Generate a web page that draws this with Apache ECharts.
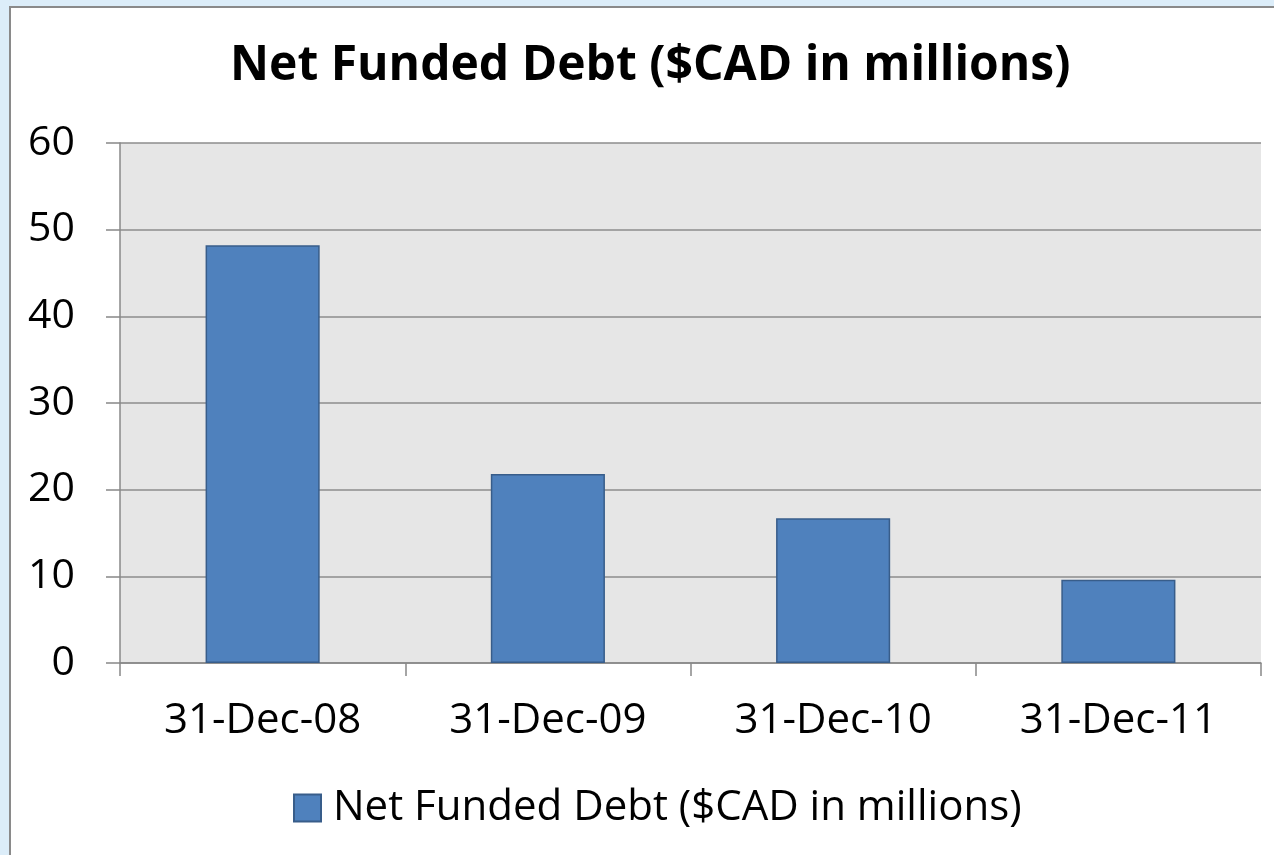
<!DOCTYPE html>
<html><head><meta charset="utf-8">
<script src="https://cdn.jsdelivr.net/npm/echarts@6/dist/echarts.min.js"></script>
<style>html,body{margin:0;padding:0;background:#dcedf9;}#c{width:1274px;height:855px;}</style>
</head><body><div id="c"></div>
<script>
const categories = ['31-Dec-08', '31-Dec-09', '31-Dec-10', '31-Dec-11'];
const seriesName = 'Net Funded Debt ($CAD in millions)';
const values = [48.2, 21.8, 16.7, 9.6];
const titleText = 'Net Funded Debt ($CAD in millions)';

const chart = echarts.init(document.getElementById('c'));
const font = '"Open Sans", Lato, sans-serif';
chart.setOption({
  animation: false,
  backgroundColor: 'transparent',
  graphic: [{
    type: 'rect', z: -10, silent: true,
    shape: {x: 10, y: 7, width: 1300, height: 900},
    style: {fill: '#ffffff', stroke: '#8a8a8a', lineWidth: 2}
  }],
  title: {
    text: titleText, left: 225, top: 37,
    textStyle: {fontFamily: font, fontWeight: 'bold', fontSize: 48, color: '#000'}
  },
  legend: {
    data: [seriesName], top: 782, left: 288,
    itemWidth: 27, itemHeight: 27, itemGap: 13,
    icon: 'rect',
    textStyle: {fontFamily: font, fontSize: 42, color: '#000', padding: [0, 0, 0, 7]}
  },
  grid: {left: 120, right: 13, top: 143, bottom: 192, show: true, backgroundColor: '#e6e6e6', borderWidth: 0},
  xAxis: {
    type: 'category', data: categories,
    axisLine: {lineStyle: {color: '#888', width: 1.5}},
    axisTick: {show: true, length: 13, alignWithLabel: false, lineStyle: {color: '#888', width: 1.5}},
    axisLabel: {fontFamily: font, fontSize: 42, color: '#000', margin: 37}
  },
  yAxis: {
    type: 'value', min: 0, max: 60, interval: 10,
    axisLine: {show: true, lineStyle: {color: '#888', width: 1.5}},
    axisTick: {show: true, length: 14, lineStyle: {color: '#888', width: 1.5}},
    axisLabel: {fontFamily: font, fontSize: 41, color: '#000', margin: 45},
    splitLine: {lineStyle: {color: '#8c8c8c', width: 1.5}}
  },
  series: [{
    name: seriesName, type: 'bar', data: values, barWidth: '40%',
    itemStyle: {color: '#4f81bd', borderColor: '#385d8a', borderWidth: 1.5}
  }]
});
</script></body></html>
